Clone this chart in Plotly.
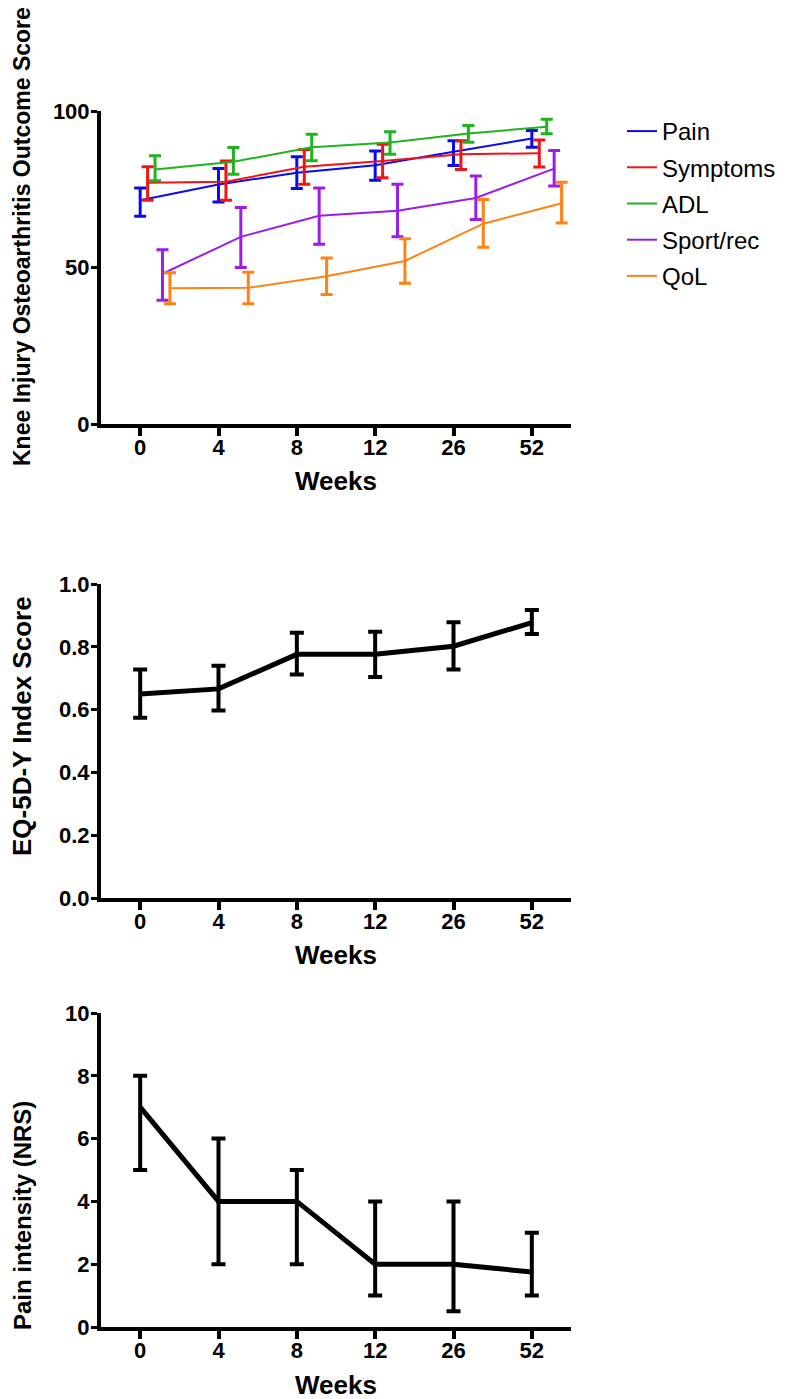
import plotly.graph_objects as go

weeks = ["0", "4", "8", "12", "26", "52"]

# KOOS subscales (mean with upper / lower error limits)
koos_names = ["Pain", "Symptoms", "ADL", "Sport/rec", "QoL"]
pain_mean = [71.5, 76.5, 80.3, 82.7, 87.0, 91.2]
pain_hi = [75.4, 81.6, 85.4, 87.2, 90.5, 93.8]
pain_lo = [66.4, 70.9, 75.2, 77.9, 82.6, 88.4]

symptoms_mean = [77.1, 77.4, 82.2, 84.0, 86.2, 86.5]
symptoms_hi = [82.2, 84.0, 87.7, 89.4, 90.5, 90.7]
symptoms_lo = [71.5, 71.5, 76.6, 78.7, 81.3, 82.1]

adl_mean = [81.3, 83.8, 88.4, 89.9, 92.8, 95.0]
adl_hi = [85.7, 88.3, 92.6, 93.4, 95.4, 97.4]
adl_lo = [77.7, 79.8, 84.1, 86.2, 90.0, 92.7]

sport_mean = [48.0, 59.8, 66.5, 68.1, 72.2, 81.6]
sport_hi = [55.7, 69.2, 75.4, 76.6, 79.2, 87.4]
sport_lo = [39.5, 50.0, 57.4, 59.8, 65.3, 76.0]

qol_mean = [43.4, 43.5, 47.2, 52.1, 64.0, 70.5]
qol_hi = [48.3, 48.5, 53.0, 59.2, 71.7, 77.2]
qol_lo = [38.4, 38.4, 41.4, 45.0, 56.5, 64.2]

# EQ-5D-Y index
eq_mean = [0.650, 0.666, 0.776, 0.776, 0.802, 0.877]
eq_hi = [0.728, 0.740, 0.845, 0.848, 0.878, 0.917]
eq_lo = [0.574, 0.597, 0.712, 0.704, 0.728, 0.841]

# Pain intensity NRS (median with IQR)
nrs_mean = [7, 4, 4, 2, 2, 1.75]
nrs_hi = [8, 6, 5, 4, 4, 3]
nrs_lo = [5, 2, 2, 1, 0.5, 1]

koos_colors = ["#0A0AF0", "#F01414", "#1EB41E", "#9B1EE6", "#FF8214"]
koos_nudge = [0.0, 0.095, 0.19, 0.285, 0.38]

FONT = "Liberation Sans, Arial, Helvetica, sans-serif"
W, H = 789, 1399
OFF = 8  # page offset of the figure inside the browser window

fig = go.Figure()

koos = [
    (pain_mean, pain_hi, pain_lo),
    (symptoms_mean, symptoms_hi, symptoms_lo),
    (adl_mean, adl_hi, adl_lo),
    (sport_mean, sport_hi, sport_lo),
    (qol_mean, qol_hi, qol_lo),
]
for i, (name, (m, hi, lo)) in enumerate(zip(koos_names, koos)):
    xs = [k + koos_nudge[i] for k in range(len(weeks))]
    fig.add_trace(go.Scatter(
        x=xs, y=m, mode="lines", name=name,
        line=dict(color=koos_colors[i], width=2),
        error_y=dict(type="data", symmetric=False,
                     array=[h - v for h, v in zip(hi, m)],
                     arrayminus=[v - l for v, l in zip(m, lo)],
                     color=koos_colors[i], thickness=3, width=6),
        xaxis="x", yaxis="y", legendgroup=name,
    ))

fig.add_trace(go.Scatter(
    x=list(range(len(weeks))), y=eq_mean, mode="lines", showlegend=False,
    line=dict(color="black", width=5),
    error_y=dict(type="data", symmetric=False,
                 array=[h - v for h, v in zip(eq_hi, eq_mean)],
                 arrayminus=[v - l for v, l in zip(eq_mean, eq_lo)],
                 color="black", thickness=4, width=7),
    xaxis="x2", yaxis="y2",
))

fig.add_trace(go.Scatter(
    x=list(range(len(weeks))), y=nrs_mean, mode="lines", showlegend=False,
    line=dict(color="black", width=5),
    error_y=dict(type="data", symmetric=False,
                 array=[h - v for h, v in zip(nrs_hi, nrs_mean)],
                 arrayminus=[v - l for v, l in zip(nrs_mean, nrs_lo)],
                 color="black", thickness=4, width=7),
    xaxis="x3", yaxis="y3",
))

def px(p):
    return (p - OFF) / W

def py(p):
    return 1 - (p - OFF) / H

xdom = [px(101), px(571)]
tickfont = dict(family=FONT, size=22, color="black", weight="bold")
common_x = dict(domain=xdom, range=[-0.5, 5.5], tickmode="array",
                tickvals=list(range(len(weeks))), ticktext=weeks,
                showline=True, linewidth=4, linecolor="black",
                ticks="outside", ticklen=8, tickwidth=4, tickcolor="black",
                ticklabelstandoff=-7,
                showgrid=False, zeroline=False, tickfont=tickfont,
                fixedrange=True, automargin=False)
common_y = dict(showline=True, linewidth=4, linecolor="black",
                ticks="outside", ticklen=6, tickwidth=3, tickcolor="black",
                ticklabelstandoff=-3,
                showgrid=False, zeroline=False, tickfont=tickfont,
                fixedrange=True, automargin=False)

fig.update_layout(
    template="none",
    width=W, height=H,
    margin=dict(l=0, r=0, t=0, b=0, autoexpand=False),
    paper_bgcolor="white", plot_bgcolor="white",
    font=dict(family=FONT, color="black"),
    xaxis=dict(**common_x, anchor="y"),
    yaxis=dict(**common_y, domain=[py(424), py(111)], range=[0, 100],
               tickvals=[0, 50, 100], anchor="x"),
    xaxis2=dict(**common_x, anchor="y2"),
    yaxis2=dict(**common_y, domain=[py(898), py(584)], range=[0, 1],
                tickvals=[0, 0.2, 0.4, 0.6, 0.8, 1.0], tickformat=".1f", anchor="x2"),
    xaxis3=dict(**common_x, anchor="y3"),
    yaxis3=dict(**common_y, domain=[py(1327), py(1013)], range=[0, 10],
                tickvals=[0, 2, 4, 6, 8, 10], anchor="x3"),
    legend=dict(x=px(622), y=py(109), xanchor="left", yanchor="top",
                font=dict(family=FONT, size=24, color="black"),
                itemwidth=30, tracegroupgap=2, bgcolor="rgba(0,0,0,0)"),
    showlegend=True,
)

annotations = [
    dict(text="Knee Injury Osteoarthritis Outcome Score", x=px(22), y=py(237),
         textangle=-90, size=23),
    dict(text="EQ-5D-Y Index Score", x=px(22), y=py(726), textangle=-90, size=26),
    dict(text="Pain intensity (NRS)", x=px(22), y=py(1216), textangle=-90, size=24),
    dict(text="Weeks", x=px(336), y=py(481), textangle=0, size=26),
    dict(text="Weeks", x=px(336), y=py(955), textangle=0, size=26),
    dict(text="Weeks", x=px(336), y=py(1385), textangle=0, size=26),
]
for a in annotations:
    size = a.pop("size")
    fig.add_annotation(xref="paper", yref="paper", showarrow=False,
                       xanchor="center", yanchor="middle",
                       font=dict(family=FONT, size=size, color="black", weight="bold"),
                       **a)

fig.write_html("out.html")
